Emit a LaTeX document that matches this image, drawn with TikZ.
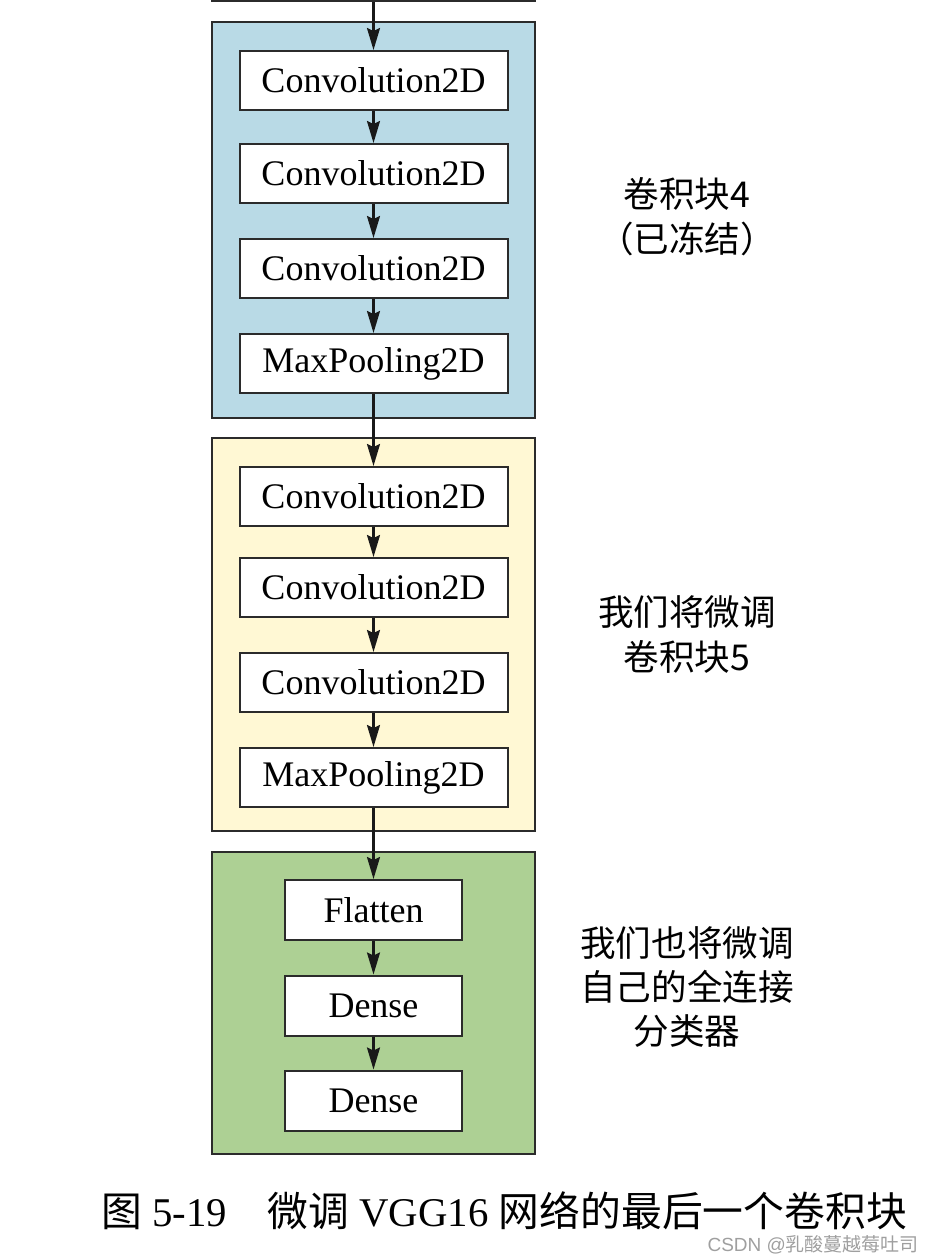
\documentclass[tikz,border=0pt]{standalone}
\usepackage{fontspec}
\setmainfont{Liberation Serif}
\newfontfamily\cjk{Noto Sans CJK SC}
\newfontfamily\marksans{Liberation Sans}
\usetikzlibrary{arrows.meta}
\definecolor{frozenblue}{HTML}{B9DAE6}
\definecolor{tuneyellow}{HTML}{FFF8D4}
\definecolor{densegreen}{HTML}{ADD094}
\definecolor{edgegray}{HTML}{2B2B2B}
\tikzset{
  block/.style={draw=edgegray,line width=1pt,minimum width=161.5pt,inner sep=0pt},
  layer/.style={draw=edgegray,fill=white,line width=1pt,minimum width=134pt,minimum height=29.5pt,inner sep=0pt,font=\fontsize{18}{20}\selectfont},
  smalllayer/.style={layer,minimum width=88.5pt,minimum height=30pt},
  note/.style={align=center,font=\fontsize{17.8}{22.5}\selectfont\cjk},
  flow/.style={-{Stealth[length=11pt,width=6.5pt,inset=1.5pt]},line width=1.1pt,draw=black!90},
}
\begin{document}
\begin{tikzpicture}[x=0.5pt,y=-0.5pt]
\useasboundingbox (0,0) rectangle (938,1260);
\clip (0,0) rectangle (938,1260);
% previous block, cut off at the top
\node[block,fill=white,minimum height=60pt,anchor=south] (prev) at (373.5,1.5) {};
% block 4 (frozen)
\node[block,fill=frozenblue,minimum height=198pt] (block4) at (373.5,220) {};
\node[layer] (b4c1) at (373.5,80.5) {Convolution2D};
\node[layer] (b4c2) at (373.5,173.5) {Convolution2D};
\node[layer] (b4c3) at (373.5,268.5) {Convolution2D};
\node[layer] (b4pool) at (373.5,363.5) {MaxPooling2D};
\node[note] (note4) at (687,217) {卷积块4\\（已冻结）};
% block 5 (fine-tuned)
\node[block,fill=tuneyellow,minimum height=196.5pt] (block5) at (373.5,634.5) {};
\node[layer] (b5c1) at (373.5,496.5) {Convolution2D};
\node[layer] (b5c2) at (373.5,587.5) {Convolution2D};
\node[layer] (b5c3) at (373.5,682.5) {Convolution2D};
\node[layer] (b5pool) at (373.5,777.5) {MaxPooling2D};
\node[note] (note5) at (687,634) {我们将微调\\卷积块5};
% classifier
\node[block,fill=densegreen,minimum height=151pt] (head) at (373.5,1003) {};
\node[smalllayer] (flat) at (373.5,910) {Flatten};
\node[smalllayer] (dense1) at (373.5,1005.5) {Dense};
\node[smalllayer] (dense2) at (373.5,1100.5) {Dense};
\node[note,font=\fontsize{17.8}{22}\selectfont\cjk] (notehead) at (687,987) {我们也将微调\\自己的全连接\\分类器};
% connectors
\draw[flow] (prev) -- (b4c1);
\draw[flow] (b4c1) -- (b4c2);
\draw[flow] (b4c2) -- (b4c3);
\draw[flow] (b4c3) -- (b4pool);
\draw[flow] (b4pool) -- (b5c1);
\draw[flow] (b5c1) -- (b5c2);
\draw[flow] (b5c2) -- (b5c3);
\draw[flow] (b5c3) -- (b5pool);
\draw[flow] (b5pool) -- (flat);
\draw[flow] (flat) -- (dense1);
\draw[flow] (dense1) -- (dense2);
% caption and watermark
\node[font=\fontsize{20.4}{24}\selectfont] (caption) at (504,1211) {{\cjk 图} 5-19\quad{\cjk 微调} VGG16 {\cjk 网络的最后一个卷积块}};
\node[anchor=east,text=gray!75,font=\fontsize{9.5}{11}\selectfont\marksans] (mark) at (926,1245) {CSDN @{\cjk 乳酸蔓越莓吐司}};
\end{tikzpicture}
\end{document}
